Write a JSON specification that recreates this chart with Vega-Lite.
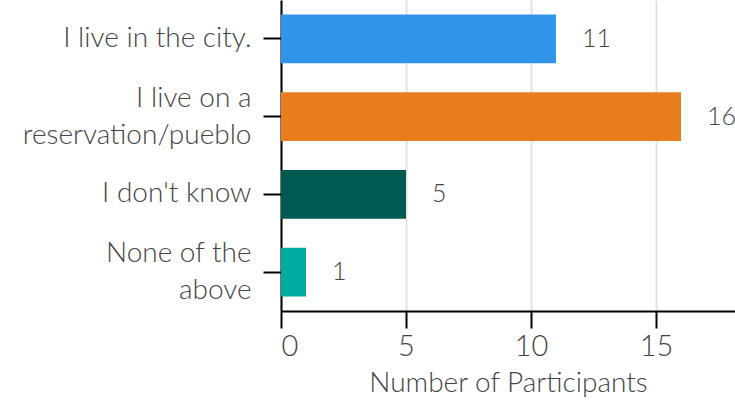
{
  "$schema": "https://vega.github.io/schema/vega-lite/v6.json",
  "autosize": {"type": "none"},
  "padding": {"left": 281, "top": 0, "right": 0, "bottom": 91},
  "width": 454,
  "height": 311,
  "background": "white",
  "config": {"view": {"stroke": null}, "font": "Lato"},
  "data": {"values": [
    {"answer": "I live in the city.", "count": 11, "color": "#3094EA"},
    {"answer": "I live on a reservation/pueblo", "count": 16, "color": "#E87D1E"},
    {"answer": "I don't know", "count": 5, "color": "#005A52"},
    {"answer": "None of the above", "count": 1, "color": "#00ABA0"}
  ]},
  "encoding": {
    "y": {"field": "answer", "type": "nominal", "sort": null,
      "scale": {"paddingInner": 0.37, "paddingOuter": 0.185},
      "axis": {"title": null, "domainColor": "#000", "domainWidth": 2, "tickColor": "#000", "tickWidth": 2, "tickSize": 18,
        "labelFontSize": 28, "labelFontWeight": 300, "labelColor": "#444", "labelPadding": 12, "labelLineHeight": 37, "labelLimit": 300,
        "labelOffset": {"condition": {"test": "indexof(datum.value, 'reservation') >= 0 || datum.value == 'None of the above'", "value": -18}, "value": 0},
        "labelExpr": "datum.value == 'I live on a reservation/pueblo' ? ['I live on a', 'reservation/pueblo'] : datum.value == 'None of the above' ? ['None of the', 'above'] : datum.value"}},
    "x": {"field": "count", "type": "quantitative",
      "scale": {"domain": [0, 18.16], "nice": false},
      "axis": {"values": [0, 5, 10, 15], "title": "Number of Participants", "titleFontSize": 28, "titleFontWeight": 300, "titleColor": "#444", "titlePadding": 8,
        "domainColor": "#000", "domainWidth": 2, "tickColor": "#000", "tickWidth": 2, "tickSize": 17,
        "labelFontSize": 29, "labelFontWeight": 300, "labelColor": "#444", "labelPadding": 4, "gridColor": "#e2e2e2", "gridWidth": 2}}
  },
  "layer": [
    {"mark": {"type": "bar"}, "encoding": {"color": {"field": "color", "type": "nominal", "scale": null, "legend": null}}},
    {"mark": {"type": "text", "align": "left", "dx": 26, "fontSize": 25, "fontWeight": 300, "color": "#444"}, "encoding": {"text": {"field": "count", "type": "quantitative"}}}
  ]
}
